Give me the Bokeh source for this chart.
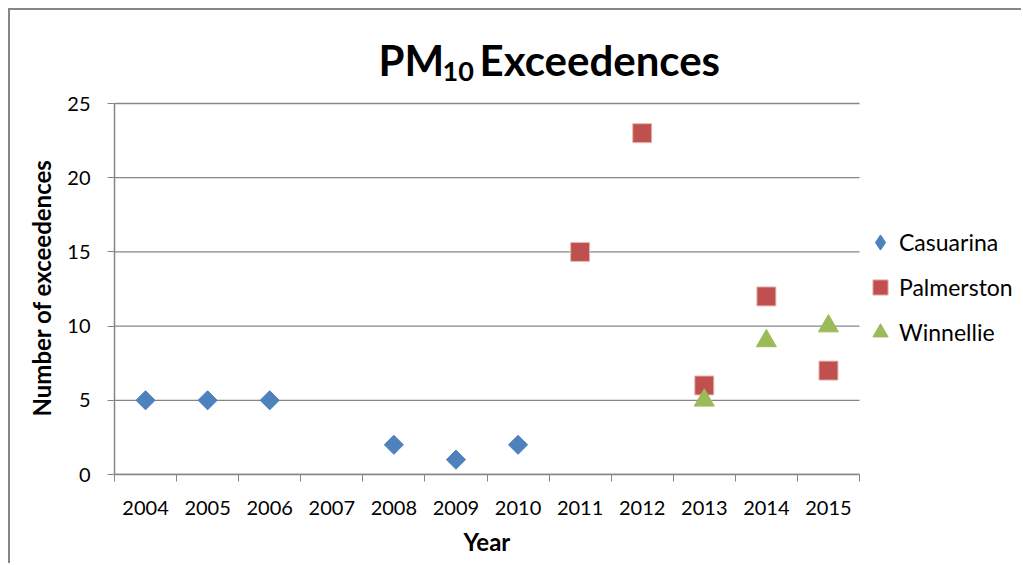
import math
from bokeh.plotting import figure
from bokeh.models import Range1d, FixedTicker, Label, Legend, LegendItem, Title
from bokeh.embed import file_html
from bokeh.resources import INLINE

# ---- data ----
years = ["2004", "2005", "2006", "2007", "2008", "2009", "2010",
         "2011", "2012", "2013", "2014", "2015"]
cas_years = ["2004", "2005", "2006", "2008", "2009", "2010"]
cas_vals = [5, 5, 5, 2, 1, 2]
pal_years = ["2011", "2012", "2013", "2014", "2015"]
pal_vals = [15, 23, 6, 12, 7]
win_years = ["2013", "2014", "2015"]
win_vals = [5, 9, 10]
y_ticks = [0, 5, 10, 15, 20, 25]
y_max = 25

FONT = "Lato"
GRAY = "#868686"

# the value area (12 categories x 0..25) is 745 x 371 px; the frame is extended
# to the right and to the top so the legend and the chart title fit inside it
X_END = len(years) * 909 / 745
Y_END = y_max * 464 / 371


def xpos(ys):
    return [years.index(y) + 0.5 for y in ys]


p = figure(width=1013, height=555, output_backend="svg", toolbar_location=None,
           x_range=Range1d(0, X_END), y_range=Range1d(0, Y_END),
           min_border_left=104, min_border_right=0,
           min_border_top=0, min_border_bottom=91)
p.styles = {"margin-left": "8px", "margin-top": "8px",
            "border-left": "2px solid #868686", "border-top": "2px solid #868686"}
p.outline_line_color = None

xa = p.xaxis[0]
xa.ticker = FixedTicker(ticks=[i + 0.5 for i in range(len(years))],
                        minor_ticks=list(range(len(years) + 1)))
xa.bounds = (0, len(years))
xa.major_label_overrides = {i + 0.5: y for i, y in enumerate(years)}
xa.major_tick_out = 0
xa.major_tick_in = 0
xa.minor_tick_out = 7
xa.minor_tick_in = 0
xa.minor_tick_line_color = GRAY
xa.axis_line_color = GRAY
xa.axis_line_width = 1.5
xa.major_label_text_font = FONT
xa.major_label_text_font_size = "20px"
xa.major_label_text_color = "black"
xa.major_label_standoff = 19

ya = p.yaxis[0]
ya.ticker = FixedTicker(ticks=y_ticks, minor_ticks=[])
ya.bounds = (0, y_max)
ya.major_tick_out = 7
ya.major_tick_in = 0
ya.major_tick_line_color = GRAY
ya.axis_line_color = GRAY
ya.axis_line_width = 1.5
ya.major_label_text_font = FONT
ya.major_label_text_font_size = "20px"
ya.major_label_text_color = "black"
ya.major_label_standoff = 17

axis_title_kw = dict(text_font=FONT, text_font_style="bold", text_font_size="24px",
                     text_color="black", align="left")
p.add_layout(Title(text="Number  of exceedences", offset=58, standoff=18,
                   **axis_title_kw), "left")
p.add_layout(Title(text="Year", offset=349, standoff=14, **axis_title_kw), "below")

# horizontal gridlines over the category span only
p.xgrid.grid_line_color = None
p.ygrid.grid_line_color = None
p.segment(x0=0, x1=len(years), y0=y_ticks, y1=y_ticks,
          line_color=GRAY, line_width=1.3)

r_cas = p.scatter(xpos(cas_years), cas_vals, marker="square", angle=math.pi / 4,
                  size=13.5, fill_color="#4F81BD", line_color="#4A7EBB", line_width=1)
r_pal = p.scatter(xpos(pal_years), pal_vals, marker="square", size=19,
                  fill_color="#C0504D", line_color="#E6B9B8", line_width=1)
r_win = p.scatter(xpos(win_years), win_vals, marker="triangle", size=20,
                  fill_color="#9BBB59", line_color="#9BBB59", line_width=1)
# hidden diamond copy of the Casuarina series, used only as its legend swatch
# (legend glyphs are drawn unrotated)
r_cas_key = p.scatter(xpos(cas_years), cas_vals, marker="diamond", visible=False,
                      fill_color="#4F81BD", line_color="#4A7EBB", line_width=1)

legend = Legend(items=[LegendItem(label="Casuarina", renderers=[r_cas_key]),
                       LegendItem(label="Palmerston", renderers=[r_pal]),
                       LegendItem(label="Winnellie", renderers=[r_win])],
                location=(747, 123), orientation="vertical",
                glyph_width=38, glyph_height=38, label_height=38,
                spacing=7, padding=0, margin=0, label_standoff=-7,
                border_line_color=None, background_fill_alpha=0,
                inactive_fill_alpha=0,
                label_text_font=FONT, label_text_font_size="23px",
                label_text_color="black")
p.add_layout(legend, "center")

# chart title with subscript
title_kw = dict(text_font=FONT, text_font_style="bold", text_color="black",
                text_baseline="alphabetic", text_align="left")
p.add_layout(Label(x=4.252, y=27.96, text="PM", text_font_size="42px", **title_kw))
p.add_layout(Label(x=5.283, y=27.15, text="10", text_font_size="27px", **title_kw))
p.add_layout(Label(x=5.88, y=27.96, text="Exceedences", text_font_size="42px", **title_kw))

open("out.html", "w").write(file_html(p, INLINE))
